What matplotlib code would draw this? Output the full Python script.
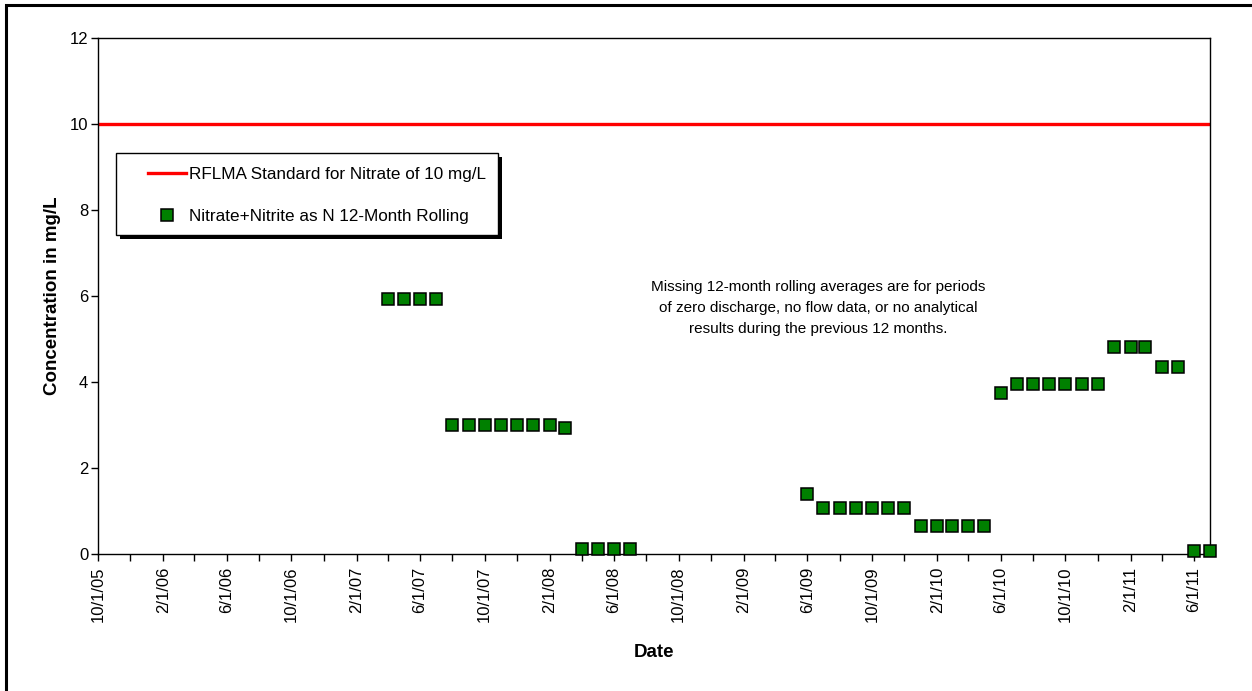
import matplotlib
matplotlib.use("Agg")
import matplotlib.pyplot as plt
import matplotlib.dates as mdates
from matplotlib.patches import Rectangle
from datetime import datetime

plt.rcParams['font.family'] = ['Liberation Sans', 'DejaVu Sans']

# Monthly 12-month rolling averages (mg/L)
months = ["4/1/07", "5/1/07", "6/1/07", "7/1/07",
          "8/1/07", "9/1/07", "10/1/07", "11/1/07", "12/1/07", "1/1/08", "2/1/08", "3/1/08",
          "4/1/08", "5/1/08", "6/1/08", "7/1/08",
          "6/1/09", "7/1/09", "8/1/09", "9/1/09", "10/1/09", "11/1/09", "12/1/09",
          "1/1/10", "2/1/10", "3/1/10", "4/1/10", "5/1/10",
          "6/1/10", "7/1/10", "8/1/10", "9/1/10", "10/1/10", "11/1/10", "12/1/10",
          "1/1/11", "2/1/11", "3/1/11", "4/1/11", "5/1/11", "6/1/11", "7/1/11"]
nitrate = [5.92, 5.92, 5.92, 5.92,
           3.0, 3.0, 3.0, 3.0, 3.0, 3.0, 3.0, 2.93,
           0.11, 0.11, 0.11, 0.11,
           1.39, 1.08, 1.08, 1.08, 1.08, 1.08, 1.08,
           0.65, 0.65, 0.65, 0.65, 0.65,
           3.74, 3.95, 3.95, 3.95, 3.95, 3.95, 3.95,
           4.81, 4.81, 4.81, 4.36, 4.36, 0.06, 0.06]
standard = 10
x_start, x_end = "10/1/05", "7/1/11"

def to_date(s):
    return datetime.strptime(s, "%m/%d/%y")

def fmt_date(v, pos):
    d = mdates.num2date(v)
    return "%d/%d/%02d" % (d.month, d.day, d.year % 100)

dates = [to_date(m) for m in months]

W, H = 1252, 691
fig = plt.figure(figsize=(W / 100, H / 100), dpi=100)
ax = fig.add_axes([98 / W, 137 / H, 1112 / W, 516 / H])

# outer frame (only top/left visible in the original)
fig.patches.append(Rectangle((6 / W, -0.1), 2.0, 1.1 - 5 / H, transform=fig.transFigure,
                             fill=False, edgecolor='black', linewidth=2.2))

line = ax.axhline(standard, color='#ff0000', linewidth=2.4, zorder=2)
pts, = ax.plot(dates, nitrate, linestyle='none', marker='s', markersize=8,
               markerfacecolor='#008000', markeredgecolor='black', markeredgewidth=1.1,
               clip_on=False, zorder=3)

ax.set_xlim(to_date(x_start), to_date(x_end))
ax.set_ylim(0, 12)
ax.set_yticks(range(0, 13, 2))
ax.xaxis.set_major_locator(mdates.MonthLocator(bymonth=[2, 6, 10]))
ax.xaxis.set_minor_locator(mdates.MonthLocator(bymonth=[4, 8, 12]))
ax.xaxis.set_major_formatter(plt.FuncFormatter(fmt_date))
ax.tick_params(axis='x', which='both', direction='out', length=5, width=1, labelsize=12,
               labelrotation=90, pad=4)
ax.tick_params(axis='y', direction='out', length=5, width=1, labelsize=12, pad=2)
for s in ax.spines.values():
    s.set_linewidth(1)

ax.set_xlabel("Date", fontsize=13.5, fontweight='bold', labelpad=16)
ax.set_ylabel("Concentration in mg/L", fontsize=13.5, fontweight='bold', labelpad=6)

ax.text(818, H - 308, "Missing 12-month rolling averages are for periods\n"
        "of zero discharge, no flow data, or no analytical\n"
        "results during the previous 12 months.",
        transform=None, ha='center', va='center', fontsize=11, linespacing=1.6)

# legend box with shadow, drawn in pixel coordinates
ax.add_patch(Rectangle((120, H - 239), 382, 82, transform=None, facecolor='black',
                       edgecolor='none', zorder=4, clip_on=False))
ax.add_patch(Rectangle((116, H - 235), 382, 82, transform=None, facecolor='white',
                       edgecolor='black', linewidth=1, zorder=5, clip_on=False))
leg = ax.legend([line, pts], ["RFLMA Standard for Nitrate of 10 mg/L",
                              "Nitrate+Nitrite as N 12-Month Rolling"],
                loc='upper left', bbox_to_anchor=((148 - 98) / 1112, (554 - 167) / 516),
                frameon=False, fontsize=12.3, handlelength=2.2, handletextpad=0.2,
                labelspacing=1.6, borderpad=0, borderaxespad=0, numpoints=1)
leg.set_zorder(6)

fig.savefig("out.png", dpi=100)
